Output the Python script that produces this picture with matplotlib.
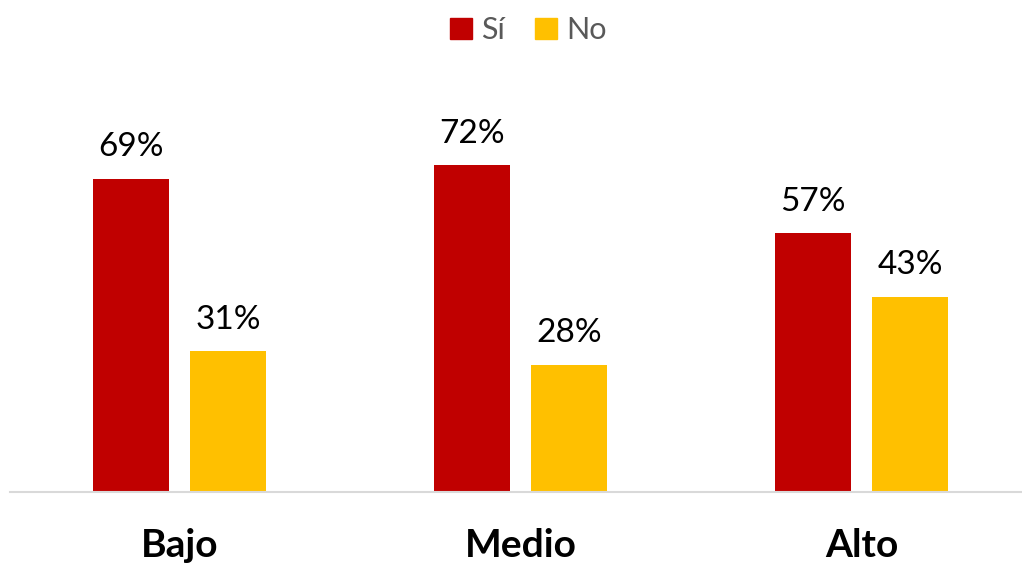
import matplotlib.pyplot as plt
import numpy as np
from matplotlib.patches import Patch

categories = ["Bajo", "Medio", "Alto"]
si_values = [69, 72, 57]
no_values = [31, 28, 43]
series_names = ["Sí", "No"]

colors = {"Sí": "#C00000", "No": "#FFC000"}

plt.rcParams["font.family"] = ["Lato", "DejaVu Sans"]

fig = plt.figure(figsize=(10.22, 5.69), dpi=100)
ax = fig.add_axes([10/1022, 1 - 492/569, 1012/1022, 432/569])

x = np.arange(len(categories))
width = 0.223
offset = 0.1425
bars_si = ax.bar(x - offset, si_values, width, color=colors["Sí"])
bars_no = ax.bar(x + offset, no_values, width, color=colors["No"])

for bars, vals in [(bars_si, si_values), (bars_no, no_values)]:
    for b, v in zip(bars, vals):
        ax.annotate("{}%".format(v), (b.get_x() + b.get_width()/2, v),
                    xytext=(0, 12), textcoords="offset points",
                    ha="center", va="bottom", fontsize=24, color="black")

ax.set_xlim(-0.497, 2.47)
ax.set_ylim(0, 432/4.536)
for s in ["top", "right", "left"]:
    ax.spines[s].set_visible(False)
ax.spines["bottom"].set_color("#D9D9D9")
ax.spines["bottom"].set_linewidth(1.5)
ax.set_yticks([])
ax.set_xticks(x)
ax.set_xticklabels(categories, fontsize=28, fontweight="bold")
ax.tick_params(axis="x", length=0, pad=26)

handles = [Patch(color=colors[n]) for n in series_names]
fig.legend(handles, series_names, loc="upper center", bbox_to_anchor=(0.517, 1.02),
           ncol=2, frameon=False, fontsize=22, labelcolor="#595959",
           handlelength=0.72, handleheight=0.72, handletextpad=0.3, columnspacing=1.0)

fig.savefig("out.png", dpi=100)
